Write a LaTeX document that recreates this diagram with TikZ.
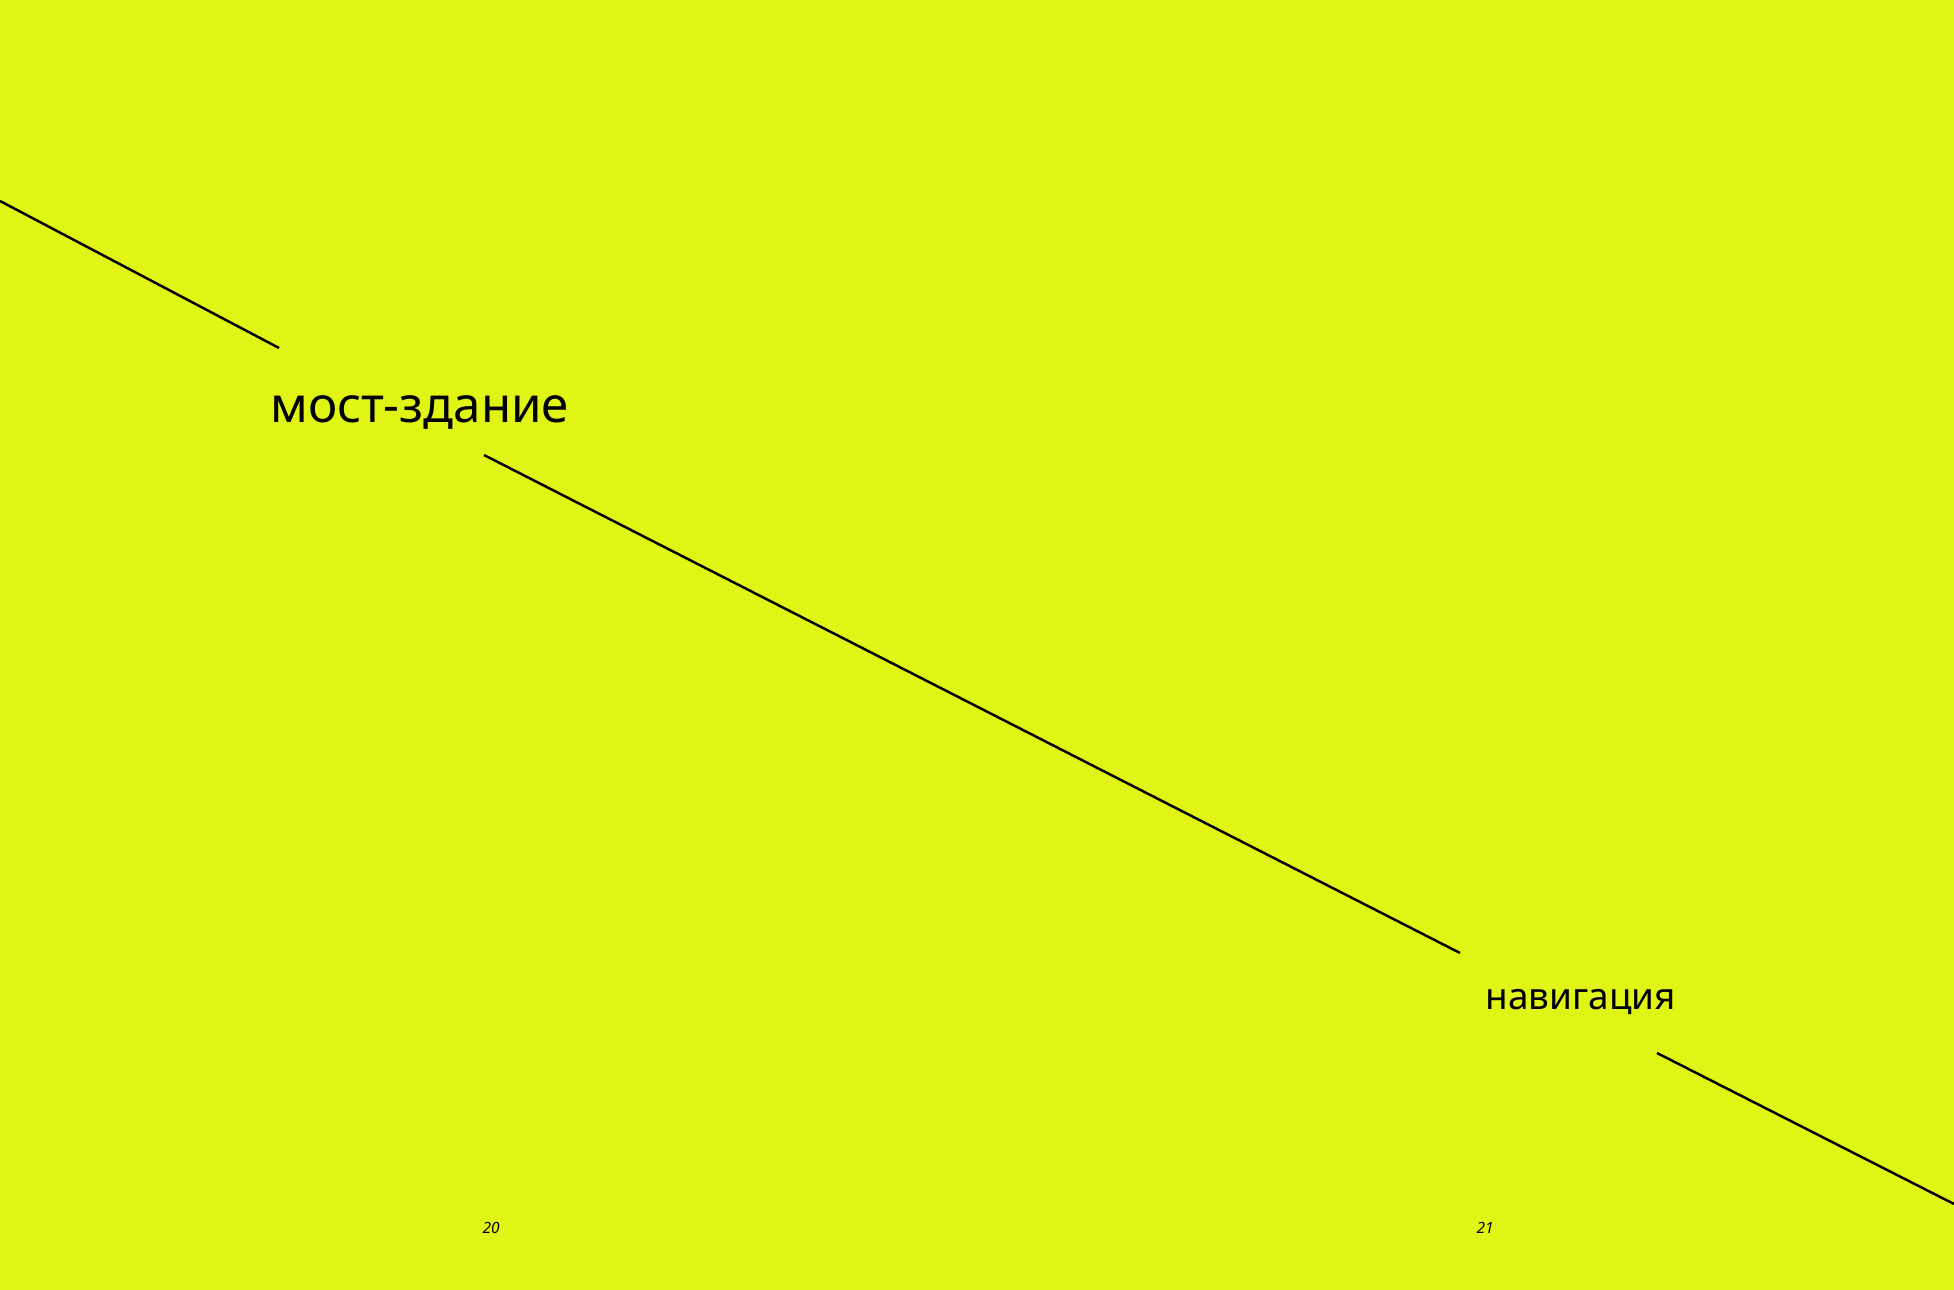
\documentclass[tikz,border=0pt]{standalone}
\usepackage{fontspec}
\setmainfont{Noto Sans}
\definecolor{lime}{RGB}{224,245,21}
\begin{document}
\begin{tikzpicture}[x=.1mm, y=-.1mm,
    word/.style={anchor=base west, inner sep=0pt},
    seg/.style={line width=.7pt, black}]
  \useasboundingbox (0,0) rectangle (1954,1290) ;
  \fill [lime] (0,0) rectangle (1954,1290) ;

  \node [word, font=\fontsize{14}{16}\selectfont] (most) at (270,423) {мост-здание} ;
  \node [word, font=\fontsize{10.5}{12}\selectfont] (nav) at (1485,1010) {навигация} ;
  \node [word, font=\fontsize{4.4}{5}\selectfont\itshape] (p20) at (482,1234) {20} ;
  \node [word, font=\fontsize{4.4}{5}\selectfont\itshape] (p21) at (1476,1234) {21} ;

  \coordinate (a1) at (0,201) ;
  \coordinate (a2) at (279,348) ;
  \coordinate (b1) at (484,455) ;
  \coordinate (b2) at (1460,953) ;
  \coordinate (c1) at (1657,1053) ;
  \coordinate (c2) at (1954,1204) ;
  \draw [seg] (a1) -- (a2) ;
  \draw [seg] (b1) -- (b2) ;
  \draw [seg] (c1) -- (c2) ;
\end{tikzpicture}
\end{document}
